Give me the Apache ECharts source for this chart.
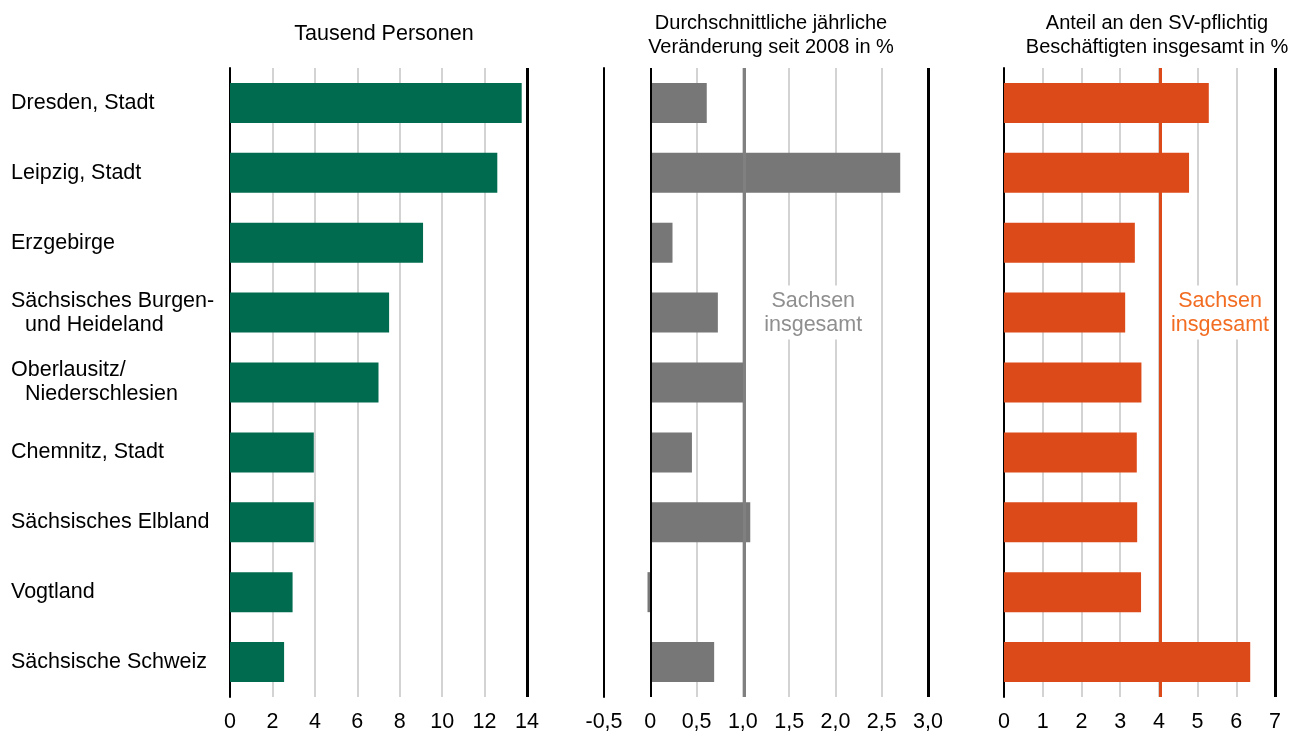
<!DOCTYPE html>
<html>
<head>
<meta charset="utf-8">
<script src="https://cdn.jsdelivr.net/npm/echarts@6/dist/echarts.min.js"></script>
<style>
  html, body { margin: 0; padding: 0; background: #fff; }
  #chart { width: 1295px; height: 735px; }
</style>
</head>
<body>
<div id="chart"></div>
<script>
// Kategorien (Regionen)
var categories = [
  "Dresden, Stadt",
  "Leipzig, Stadt",
  "Erzgebirge",
  "Sächsisches Burgen-\nund Heideland",
  "Oberlausitz/\nNiederschlesien",
  "Chemnitz, Stadt",
  "Sächsisches Elbland",
  "Vogtland",
  "Sächsische Schweiz"
];
// Tausend Personen
var personen = [13.75, 12.6, 9.1, 7.5, 7.0, 3.95, 3.95, 2.95, 2.55];
// Durchschnittliche jährliche Veränderung seit 2008 in %
var veraenderung = [0.61, 2.7, 0.24, 0.73, 1.03, 0.45, 1.08, -0.03, 0.69];
// Anteil an den SV-pflichtig Beschäftigten insgesamt in %
var anteil = [5.29, 4.78, 3.38, 3.13, 3.55, 3.43, 3.44, 3.54, 6.36];
// Sachsen insgesamt
var sachsenVeraenderung = 1.02;
var sachsenAnteil = 4.04;

var titles = [
  "Tausend Personen",
  "Durchschnittliche jährliche\nVeränderung seit 2008 in %",
  "Anteil an den SV-pflichtig\nBeschäftigten insgesamt in %"
];

var FONT = "'Liberation Sans', Arial, sans-serif";
var FS = 21.5;

var chart = echarts.init(document.getElementById("chart"));

function xAxis(idx, min, max, interval, fmt) {
  return {
    type: "value",
    gridIndex: idx,
    min: min,
    max: max,
    interval: interval,
    axisLine: { show: false },
    axisTick: { show: false },
    splitLine: { show: true, lineStyle: { color: "#c4c4c4", width: 1.5 } },
    axisLabel: {
      color: "#000",
      fontSize: FS,
      fontFamily: FONT,
      margin: 14,
      formatter: fmt
    }
  };
}

function yAxis(idx, showLabel) {
  return {
    type: "category",
    gridIndex: idx,
    inverse: true,
    data: categories,
    axisLine: { show: true, onZero: false, lineStyle: { color: "#000", width: 2 } },
    axisTick: { show: false },
    splitLine: { show: false },
    axisLabel: {
      show: showLabel,
      align: "left",
      margin: 219,
      formatter: function (value) {
        var lines = value.split("\n");
        return lines.map(function (l, i) {
          return (i === 0 ? "{a|" : "{b|") + l + "}";
        }).join("\n");
      },
      rich: {
        a: { fontSize: FS, fontFamily: FONT, color: "#000", lineHeight: 24 },
        b: { fontSize: FS, fontFamily: FONT, color: "#000", lineHeight: 24, padding: [0, 0, 0, 14] }
      }
    }
  };
}

function vline(x, color, width) {
  return { xAxis: x, lineStyle: { color: color, width: width, type: "solid" } };
}

function sachsenLabel(x, color) {
  return {
    symbol: "rect",
    symbolSize: 1,
    silent: true,
    itemStyle: { color: "rgba(0,0,0,0)" },
    label: {
      show: true,
      position: "inside",
      formatter: "Sachsen\ninsgesamt",
      color: color,
      fontSize: FS,
      fontFamily: FONT,
      lineHeight: 24,
      backgroundColor: "#fff",
      padding: [3, 4]
    },
    data: [{ coord: [x, 3] }]
  };
}

var titleStyle = { fontSize: FS, fontWeight: "normal", color: "#000", fontFamily: FONT, lineHeight: 24 };
var titleStyle2 = { fontSize: 20, fontWeight: "normal", color: "#000", fontFamily: FONT, lineHeight: 24 };

var option = {
  animation: false,
  textStyle: { fontFamily: FONT },
  title: [
    { text: titles[0], left: 379, top: 17, textAlign: "center", textStyle: titleStyle },
    { text: titles[1], left: 766, top: 6, textAlign: "center", textStyle: titleStyle2 },
    { text: titles[2], left: 1152, top: 6, textAlign: "center", textStyle: titleStyle2 }
  ],
  grid: [
    { left: 230, width: 297, top: 68, bottom: 38 },
    { left: 604, width: 324, top: 68, bottom: 38 },
    { left: 1004, width: 271, top: 68, bottom: 38 }
  ],
  xAxis: [
    xAxis(0, 0, 14, 2),
    xAxis(1, -0.5, 3, 0.5, function (v) {
      return v === 0 ? "0" : v.toFixed(1).replace(".", ",");
    }),
    xAxis(2, 0, 7, 1)
  ],
  yAxis: [yAxis(0, true), yAxis(1, false), yAxis(2, false)],
  series: [
    {
      type: "bar",
      xAxisIndex: 0,
      yAxisIndex: 0,
      barWidth: 40,
      itemStyle: { color: "#006b4e" },
      data: personen,
      markLine: {
        symbol: ["none", "none"],
        silent: true,
        label: { show: false },
        data: [vline(14, "#000", 3)]
      }
    },
    {
      type: "bar",
      xAxisIndex: 1,
      yAxisIndex: 1,
      barWidth: 40,
      itemStyle: { color: "#777777" },
      data: veraenderung,
      markLine: {
        symbol: ["none", "none"],
        silent: true,
        label: { show: false },
        data: [
          vline(0, "#000", 2),
          vline(sachsenVeraenderung, "#808080", 3),
          vline(3, "#000", 3)
        ]
      },
      markPoint: sachsenLabel(1.76, "#8f8f8f")
    },
    {
      type: "bar",
      xAxisIndex: 2,
      yAxisIndex: 2,
      barWidth: 40,
      itemStyle: { color: "#dd4a19" },
      data: anteil,
      markLine: {
        symbol: ["none", "none"],
        silent: true,
        label: { show: false },
        data: [
          vline(sachsenAnteil, "#dd4a19", 3),
          vline(7, "#000", 3)
        ]
      },
      markPoint: sachsenLabel(5.58, "#f26c22")
    }
  ]
};

chart.setOption(option);
</script>
</body>
</html>
